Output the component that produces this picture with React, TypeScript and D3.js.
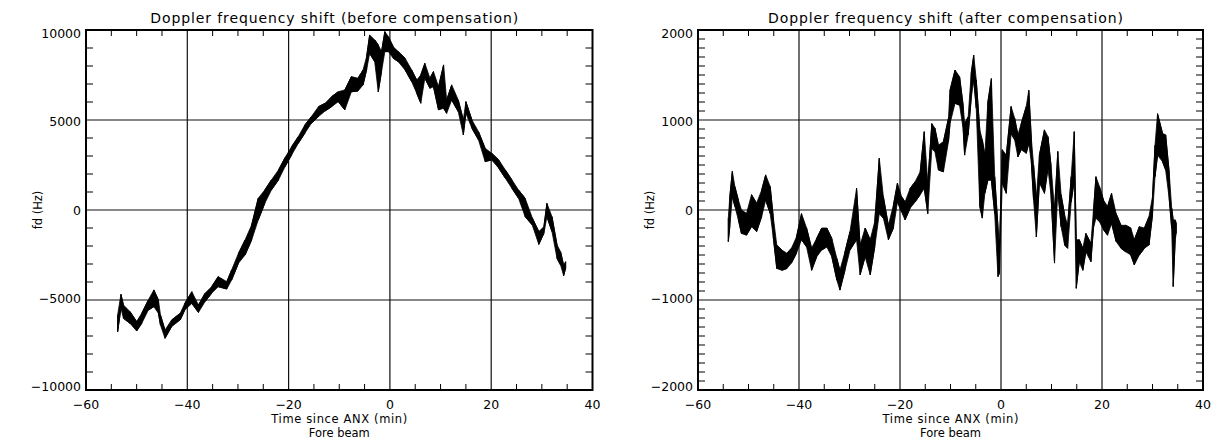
import React from "react";
import * as d3 from "d3";

// ---------- data ----------
const xMajorTicks = [-60, -40, -20, 0, 20, 40];
const xTickLabels = ["\u221260", "\u221240", "\u221220", "0", "20", "40"];

const leftYMajor = [-10000, -5000, 0, 5000, 10000];
const leftYLabels = ["\u221210000", "\u22125000", "0", "5000", "10000"];
const rightYMajor = [-2000, -1000, 0, 1000, 2000];
const rightYLabels = ["\u22122000", "\u22121000", "0", "1000", "2000"];

// Before compensation: time (min), upper and lower edge of the noisy trace (Hz)
const beforeT = [-53.75, -53.1, -52.6, -51.3, -50.0, -49.0, -47.7, -46.6, -45.7, -45.3, -44.4, -43.1, -41.4, -40.5, -39.1, -37.8, -36.5, -35.2, -33.9, -32.2, -31.25, -29.9, -28.6, -27.3, -26.0, -24.7, -23.4, -22.0, -20.7, -19.4, -18.1, -16.8, -15.5, -14.1, -12.8, -11.5, -10.2, -8.9, -7.6, -6.3, -5.3, -4.6, -4.0, -3.0, -2.3, -1.65, -1.0, -0.3, 0.66, 1.65, 3.0, 4.3, 5.3, 6.1, 6.9, 7.9, 8.6, 9.6, 10.6, 11.2, 12.2, 13.5, 14.5, 15.0, 16.2, 17.5, 18.8, 20.1, 21.5, 22.8, 24.1, 25.4, 26.7, 28.1, 29.4, 30.4, 31.0, 32.0, 33.0, 33.7, 34.3, 34.7];
const beforeHi = [-5830, -4685, -5280, -5650, -6200, -5740, -5000, -4440, -5000, -5830, -6670, -6110, -5740, -5190, -4540, -5280, -4630, -4260, -3700, -3980, -3330, -2410, -1670, -830, 650, 1110, 1670, 2220, 2910, 3520, 4070, 4720, 5190, 5740, 5930, 6300, 6570, 6670, 7410, 7320, 7780, 8520, 9720, 9450, 9170, 8800, 9910, 9630, 9070, 8800, 8430, 7780, 7220, 7500, 8150, 7320, 7690, 6850, 8060, 6110, 6950, 6110, 5000, 6020, 5000, 4350, 3430, 3150, 2780, 2220, 1670, 1110, 650, -430, -1200, -930, 370, -370, -1940, -2320, -3060, -2870];
const beforeLo = [-6760, -5460, -6020, -6300, -6720, -6300, -5560, -5370, -5740, -6390, -7130, -6480, -6110, -5560, -5190, -5690, -5090, -4630, -4260, -4390, -3890, -2960, -2500, -1670, -560, 370, 1110, 1670, 2410, 3060, 3700, 4260, 4820, 5190, 5500, 5740, 6020, 5560, 6570, 6610, 6950, 7780, 8700, 8240, 6570, 7690, 8800, 8800, 8430, 8240, 7780, 7130, 6480, 5930, 7320, 6760, 6850, 5560, 5650, 5370, 6110, 5460, 4170, 5370, 4540, 3890, 2690, 2780, 2320, 1760, 1200, 650, -370, -830, -1910, -1300, -370, -1200, -2690, -3060, -3650, -3240];

// After compensation
const afterT = [-54.0, -53.7, -53.2, -52.7, -52.0, -51.4, -50.4, -49.4, -48.4, -47.4, -46.6, -45.7, -45.1, -44.4, -43.4, -42.4, -41.5, -40.5, -39.5, -38.5, -37.5, -36.5, -35.5, -34.5, -33.5, -32.5, -31.9, -30.9, -29.9, -28.6, -27.9, -26.9, -25.9, -25.0, -24.1, -23.3, -22.3, -21.3, -20.5, -19.7, -19.0, -18.0, -17.0, -16.0, -15.2, -14.5, -13.7, -13.1, -12.4, -11.4, -10.4, -10.1, -9.1, -8.2, -7.5, -7.2, -6.5, -5.9, -5.4, -4.9, -4.2, -3.7, -3.2, -2.6, -1.9, -1.25, -0.6, -0.3, 0.25, 1.05, 2.0, 2.7, 3.35, 4.0, 5.0, 5.5, 6.0, 6.45, 7.0, 7.6, 8.6, 9.3, 9.9, 10.6, 11.25, 11.9, 12.6, 13.2, 13.9, 14.5, 14.9, 15.5, 16.2, 16.8, 17.8, 18.3, 18.8, 19.5, 20.3, 21.1, 21.9, 22.8, 23.75, 24.7, 25.7, 26.4, 27.4, 28.4, 29.3, 30.0, 30.5, 31.0, 32.0, 32.6, 33.3, 33.8, 34.1, 34.5, 34.7];
const afterHi = [-90, 150, 430, 260, 110, 0, -40, 170, 75, 220, 390, 260, -75, -390, -445, -480, -425, -300, -40, -200, -425, -315, -200, -200, -315, -540, -670, -465, -240, 240, -390, -200, -330, -130, 575, 150, -170, 55, 300, 150, 90, 240, 315, 425, 870, 300, 960, 910, 720, 760, 1020, 1330, 1555, 1480, 1165, 960, 1035, 1520, 1720, 1445, 890, 780, 610, 1200, 1460, 370, -185, -410, 670, 610, 1150, 1020, 835, 960, 1150, 1330, 800, 500, 130, 610, 890, 815, 500, 0, 650, 170, -55, -170, 370, 870, -330, -330, -425, -260, -370, -20, 370, 260, 110, 40, 185, -40, -170, -170, -200, -330, -185, -200, -75, 150, 720, 1070, 850, 835, 425, 20, -110, -110, -150];
const afterLo = [-350, -185, 150, 40, -110, -260, -280, -185, -240, -75, 110, -40, -300, -650, -670, -650, -590, -480, -330, -410, -670, -520, -445, -410, -520, -780, -890, -670, -445, -330, -720, -520, -720, -410, -40, -90, -330, -200, 90, -20, -110, 20, 90, 170, 240, -40, 685, 650, 445, 425, 760, 960, 1185, 1165, 905, 610, 835, 1240, 1445, 1130, 40, -90, 185, 330, 330, -40, -740, -700, 300, 185, 850, 780, 590, 670, 630, 740, 535, 110, -300, 300, 185, 460, 170, -590, 220, -185, -390, -425, 90, 330, -870, -575, -670, -465, -575, -205, -90, -130, -220, -280, -150, -350, -425, -465, -500, -610, -500, -425, -390, -55, 370, 610, 535, 445, 130, -205, -850, -330, -260];

// ---------- layout ----------
const W = 1217;
const H = 442;
const TOP = 30;
const BOTTOM = 390;
const FONT = "'DejaVu Sans', 'Liberation Sans', sans-serif";

type PanelProps = {
  x0: number;
  x1: number;
  title: string;
  titleLen: number;
  t: number[];
  hi: number[];
  lo: number[];
  yMajor: number[];
  yLabels: string[];
  yMinorStep: number;
};

function Panel({ x0, x1, title, titleLen, t, hi, lo, yMajor, yLabels, yMinorStep }: PanelProps) {
  const x = d3.scaleLinear().domain([-60, 40]).range([x0, x1]);
  const yMin = yMajor[0];
  const yMax = yMajor[yMajor.length - 1];
  const y = d3.scaleLinear().domain([yMin, yMax]).range([BOTTOM, TOP]);

  const xMinor = d3.range(-60, 40.001, 5).filter((v) => !xMajorTicks.includes(v));
  const yMinor = d3
    .range(yMin, yMax + 0.001, yMinorStep)
    .filter((v) => !yMajor.some((m) => Math.abs(m - v) < 1e-6));

  const idx = d3.range(t.length);
  const area = d3
    .area<number>()
    .x((i) => x(t[i]))
    .y0((i) => y(lo[i]))
    .y1((i) => y(hi[i]));
  const zig: [number, number][] = [];
  idx.forEach((i) => {
    zig.push([x(t[i]), y(i % 2 ? lo[i] : hi[i])]);
    zig.push([x(t[i]), y(i % 2 ? hi[i] : lo[i])]);
  });
  const line = d3.line();

  const cx = (x0 + x1) / 2;
  const midY = (TOP + BOTTOM) / 2;
  const xTickLen = 6;
  const yTickLen = 7;

  return (
    <g>
      <text x={cx - 5} y={23} textAnchor="middle" fontSize={14} fontFamily={FONT} textLength={titleLen} lengthAdjust="spacing">
        {title}
      </text>
      {/* grid lines at major ticks */}
      {xMajorTicks.slice(1, -1).map((v) => (
        <line key={"gx" + v} x1={x(v)} x2={x(v)} y1={TOP} y2={BOTTOM} stroke="#111" strokeWidth={1.2} />
      ))}
      {yMajor.slice(1, -1).map((v) => (
        <line key={"gy" + v} x1={x0} x2={x1} y1={y(v)} y2={y(v)} stroke="#111" strokeWidth={1.2} />
      ))}
      {/* minor ticks */}
      {xMinor.map((v) => (
        <g key={"mx" + v}>
          <line x1={x(v)} x2={x(v)} y1={BOTTOM} y2={BOTTOM - xTickLen} stroke="#000" strokeWidth={1} />
          <line x1={x(v)} x2={x(v)} y1={TOP} y2={TOP + xTickLen} stroke="#000" strokeWidth={1} />
        </g>
      ))}
      {yMinor.map((v) => (
        <g key={"my" + v}>
          <line x1={x0} x2={x0 + yTickLen} y1={y(v)} y2={y(v)} stroke="#000" strokeWidth={1} />
          <line x1={x1} x2={x1 - yTickLen} y1={y(v)} y2={y(v)} stroke="#000" strokeWidth={1} />
        </g>
      ))}
      {/* data */}
      <path d={area(idx) || ""} fill="#000" stroke="#000" strokeWidth={0.8} strokeLinejoin="round" />
      <path d={line(zig) || ""} fill="none" stroke="#000" strokeWidth={1} />
      {/* frame */}
      <rect x={x0} y={TOP} width={x1 - x0} height={BOTTOM - TOP} fill="none" stroke="#000" strokeWidth={2} />
      {/* x tick labels */}
      {xMajorTicks.map((v, i) => (
        <text key={"xl" + v} x={x(v)} y={408.5} textAnchor="middle" fontSize={12.5} fontFamily={FONT}>
          {xTickLabels[i]}
        </text>
      ))}
      {/* y tick labels */}
      {yMajor.map((v, i) => (
        <text
          key={"yl" + v}
          x={x0 - 5}
          y={midY + (y(v) - midY) * 0.978}
          dy="0.36em"
          textAnchor="end"
          fontSize={12.5}
          fontFamily={FONT}
        >
          {yLabels[i]}
        </text>
      ))}
      <text x={cx} y={423} textAnchor="middle" fontSize={11.5} fontFamily={FONT} textLength={136} lengthAdjust="spacing">
        Time since ANX (min)
      </text>
      <text x={cx} y={437} textAnchor="middle" fontSize={11.5} fontFamily={FONT}>
        Fore beam
      </text>
      <text
        transform={`translate(${x0 - 44},${midY}) rotate(-90)`}
        textAnchor="middle"
        fontSize={11.5}
        fontFamily={FONT}
      >
        fd (Hz)
      </text>
    </g>
  );
}

export default function App() {
  return (
    <svg
      width={W}
      height={H}
      viewBox={`0 0 ${W} ${H}`}
      style={{ position: "absolute", left: 0, top: 0, background: "#fff" }}
    >
      <rect x={0} y={0} width={W} height={H} fill="#fff" />
      <Panel
        x0={86}
        x1={592.5}
        title="Doppler frequency shift (before compensation)"
        titleLen={368}
        t={beforeT}
        hi={beforeHi}
        lo={beforeLo}
        yMajor={leftYMajor}
        yLabels={leftYLabels}
        yMinorStep={1000}
      />
      <Panel
        x0={698}
        x1={1203}
        title="Doppler frequency shift (after compensation)"
        titleLen={355}
        t={afterT}
        hi={afterHi}
        lo={afterLo}
        yMajor={rightYMajor}
        yLabels={rightYLabels}
        yMinorStep={100}
      />
    </svg>
  );
}
